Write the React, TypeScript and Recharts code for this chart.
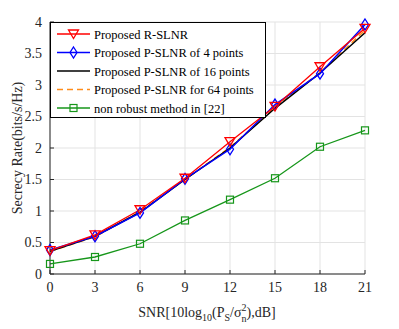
import React from 'react';
import { LineChart, Line, XAxis, YAxis, CartesianGrid } from 'recharts';

const snr = [0, 3, 6, 9, 12, 15, 18, 21];
const rSlnr = [0.37, 0.62, 1.02, 1.52, 2.1, 2.66, 3.29, 3.9];
const pSlnr4 = [0.38, 0.6, 0.97, 1.51, 1.98, 2.69, 3.18, 3.96];
const pSlnr16 = [0.36, 0.6, 0.98, 1.5, 2.0, 2.63, 3.19, 3.83];
const pSlnr64 = [0.36, 0.59, 0.99, 1.5, 2.01, 2.64, 3.2, 3.87];
const nonRobust = [0.16, 0.27, 0.48, 0.85, 1.18, 1.52, 2.02, 2.28];
const xTicks = [0, 3, 6, 9, 12, 15, 18, 21];
const yTicks = [0, 0.5, 1, 1.5, 2, 2.5, 3, 3.5, 4];

const seriesNames = [
  'Proposed R-SLNR',
  'Proposed P-SLNR of 4 points',
  'Proposed P-SLNR of 16 points',
  'Proposed P-SLNR for 64 points',
  'non robust method in [22]',
];

const data = snr.map((s, i) => ({
  snr: s,
  r: rSlnr[i],
  p4: pSlnr4[i],
  p16: pSlnr16[i],
  p64: pSlnr64[i],
  nr: nonRobust[i],
}));

const FONT = 'Liberation Serif';
const RED = '#ff0000';
const BLUE = '#0000ff';
const BLACK = '#000000';
const ORANGE = '#ff8c1a';
const GREEN = '#16961a';

const Tri = (props: any) => {
  const { cx, cy, stroke } = props;
  if (cx == null || cy == null) return null;
  const s = 5;
  return <path d={`M${cx - s},${cy - s * 0.8} L${cx + s},${cy - s * 0.8} L${cx},${cy + s * 0.9} Z`} fill="none" stroke={stroke} strokeWidth={1.3} />;
};
const Dia = (props: any) => {
  const { cx, cy, stroke } = props;
  if (cx == null || cy == null) return null;
  return <path d={`M${cx},${cy - 5.5} L${cx + 3.5},${cy} L${cx},${cy + 5.5} L${cx - 3.5},${cy} Z`} fill="none" stroke={stroke} strokeWidth={1.3} />;
};
const Sq = (props: any) => {
  const { cx, cy, stroke } = props;
  if (cx == null || cy == null) return null;
  return <rect x={cx - 3.5} y={cy - 3.5} width={7} height={7} fill="none" stroke={stroke} strokeWidth={1.2} />;
};

const legendItems = [
  { name: seriesNames[0], color: RED, marker: 'tri', dash: false },
  { name: seriesNames[1], color: BLUE, marker: 'dia', dash: false },
  { name: seriesNames[2], color: BLACK, marker: 'none', dash: false },
  { name: seriesNames[3], color: ORANGE, marker: 'none', dash: true },
  { name: seriesNames[4], color: GREEN, marker: 'sq', dash: false },
];

const LegendBox = () => (
  <svg width={216} height={96} style={{ display: 'block' }}>
    <rect x={0.5} y={0.5} width={215} height={95} fill="#fff" stroke="#000" strokeWidth={1} />
    {legendItems.map((it, i) => {
      const y = 12 + i * 18.5;
      return (
        <g key={i}>
          <line x1={7} x2={40} y1={y} y2={y} stroke={it.color} strokeWidth={1.5} strokeDasharray={it.dash ? '6 4' : undefined} />
          {it.marker === 'tri' && <Tri cx={23.5} cy={y} stroke={it.color} />}
          {it.marker === 'dia' && <Dia cx={23.5} cy={y} stroke={it.color} />}
          {it.marker === 'sq' && <Sq cx={23.5} cy={y} stroke={it.color} />}
          <text x={44} y={y + 4.5} fontFamily={FONT} fontSize={12.5} fill="#000">{it.name}</text>
        </g>
      );
    })}
  </svg>
);

const XLabel = () => (
  <text x={207} y={317} textAnchor="middle" fontFamily={FONT} fontSize={14} fill="#262626">
    <tspan>SNR[10log</tspan>
    <tspan fontSize={10} dy={4}>10</tspan>
    <tspan dy={-4}>(P</tspan>
    <tspan fontSize={10} dy={4}>S</tspan>
    <tspan dy={-4}>/σ</tspan>
    <tspan fontSize={10} dy={-6}>2</tspan>
    <tspan fontSize={10} dx={-5} dy={11}>n</tspan>
    <tspan dy={-5}>),dB]</tspan>
  </text>
);

const YLabel = () => (
  <text x={0} y={0} transform="translate(22,148) rotate(-90)" textAnchor="middle" fontFamily={FONT} fontSize={14} fill="#262626">
    Secrecy Rate(bits/s/Hz)
  </text>
);

const tickStyle = { fontFamily: FONT, fontSize: 14, fill: '#262626' };

export default function App() {
  return (
    <div style={{ position: 'absolute', left: 0, top: 0, width: 399, height: 329, background: '#fff', fontFamily: FONT }}>
      <LineChart width={399} height={329} data={data} margin={{ top: 22, right: 34, bottom: 0, left: 0 }}>
        <CartesianGrid stroke="#e3e3e3" strokeWidth={1} horizontalValues={yTicks} verticalValues={xTicks} />
        <XAxis
          dataKey="snr"
          type="number"
          domain={[0, 21]}
          ticks={xTicks}
          height={55}
          axisLine={{ stroke: '#262626' }}
          tickLine={{ stroke: '#262626' }}
          tickSize={-4}
          tick={{ ...tickStyle, dy: 10 }}
          label={<XLabel />}
        />
        <XAxis xAxisId="top" orientation="top" dataKey="snr" type="number" domain={[0, 21]} ticks={xTicks} height={0} axisLine={{ stroke: '#262626' }} tickLine={{ stroke: '#262626' }} tickSize={-4} tick={false} />
        <YAxis
          type="number"
          domain={[0, 4]}
          ticks={yTicks}
          width={50}
          axisLine={{ stroke: '#262626' }}
          tickLine={{ stroke: '#262626' }}
          tickSize={-4}
          tick={{ ...tickStyle, dx: -10 }}
          label={<YLabel />}
        />
        <YAxis yAxisId="right" orientation="right" type="number" domain={[0, 4]} ticks={yTicks} width={0} axisLine={{ stroke: '#262626' }} tickLine={{ stroke: '#262626' }} tickSize={-4} tick={false} />
        <Line dataKey="nr" name={seriesNames[4]} stroke={GREEN} strokeWidth={1.3} dot={<Sq />} isAnimationActive={false} />
        <Line dataKey="p64" name={seriesNames[3]} stroke={ORANGE} strokeWidth={1.5} strokeDasharray="6 4" dot={false} isAnimationActive={false} />
        <Line dataKey="p16" name={seriesNames[2]} stroke={BLACK} strokeWidth={1.5} dot={false} isAnimationActive={false} />
        <Line dataKey="p4" name={seriesNames[1]} stroke={BLUE} strokeWidth={1.5} dot={<Dia />} isAnimationActive={false} />
        <Line dataKey="r" name={seriesNames[0]} stroke={RED} strokeWidth={1.3} dot={<Tri />} isAnimationActive={false} />
      </LineChart>
      <div style={{ position: 'absolute', left: 50, top: 22 }}>
        <LegendBox />
      </div>
    </div>
  );
}
